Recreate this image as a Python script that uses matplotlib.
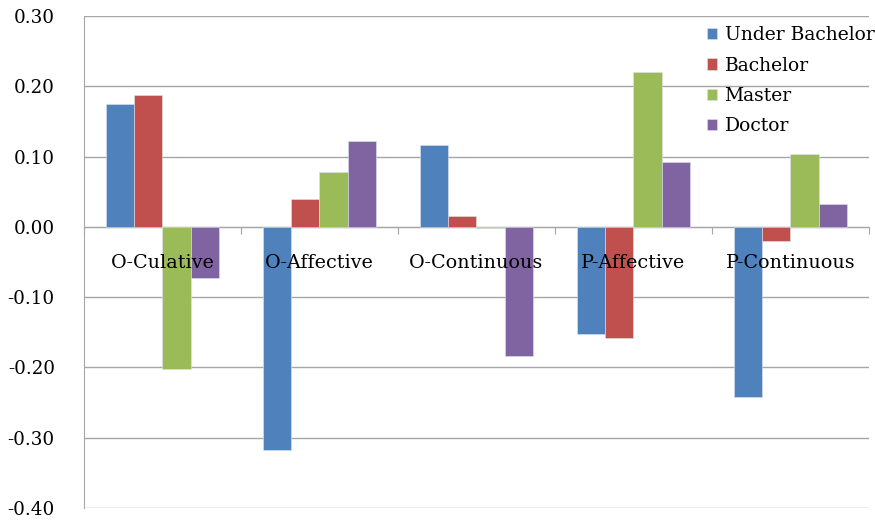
import numpy as np
import matplotlib
matplotlib.use("Agg")
import matplotlib.pyplot as plt

categories = ["O-Culative", "O-Affective", "O-Continuous", "P-Affective", "P-Continuous"]
series = ["Under Bachelor", "Bachelor", "Master", "Doctor"]
under_bachelor = [0.175, -0.317, 0.116, -0.153, -0.242]
bachelor = [0.188, 0.040, 0.015, -0.158, -0.020]
master = [-0.202, 0.078, -0.002, 0.221, 0.104]
doctor = [-0.072, 0.122, -0.183, 0.092, 0.033]
yticks = [-0.40, -0.30, -0.20, -0.10, 0.00, 0.10, 0.20, 0.30]

colors = ["#4F81BD", "#C0504D", "#9BBB59", "#8064A2"]
grid_col = "#A6A6A6"

plt.rcParams["font.family"] = ["DejaVu Serif"]

fig = plt.figure(figsize=(8.75, 5.2), dpi=100)
ax = fig.add_axes([0.096, 0.023, 0.897, 0.946])

x = np.arange(len(categories))
w = 0.18
for j, (name, vals) in enumerate(zip(series, [under_bachelor, bachelor, master, doctor])):
    ax.bar(x + (j - 1.5) * w, vals, w, color=colors[j], label=name,
           edgecolor="#DDE3EE", linewidth=0.4, zorder=2)

ax.set_xlim(-0.5, len(categories) - 0.5)
ax.set_ylim(-0.40, 0.30)
ax.set_yticks(yticks)
ax.set_yticklabels([f"{v:.2f}" for v in yticks], fontsize=13.2)
ax.tick_params(axis="y", length=0, pad=21)
ax.yaxis.grid(True, color=grid_col, linewidth=1.0, zorder=0)
ax.set_axisbelow(True)

# category axis sits on the zero line, with marks between categories
ax.spines["bottom"].set_position(("data", 0))
ax.spines["bottom"].set_color(grid_col)
ax.spines["bottom"].set_zorder(1)
ax.set_xticks(np.arange(len(categories) + 1) - 0.5)
ax.set_xticklabels([])
ax.tick_params(axis="x", length=5, color=grid_col, direction="out")
for sp in ["top", "right"]:
    ax.spines[sp].set_visible(False)
ax.spines["left"].set_color(grid_col)

for i, c in enumerate(categories):
    ax.text(i, -0.052, c, ha="center", va="center", fontsize=13.8, zorder=5)

ax.legend(loc="upper right", bbox_to_anchor=(1.02, 1.0), frameon=False,
          fontsize=13.5, handlelength=0.55, handleheight=0.55,
          handletextpad=0.4, labelspacing=0.65, borderaxespad=0.15)

fig.savefig("out.png", dpi=100, facecolor="white")
